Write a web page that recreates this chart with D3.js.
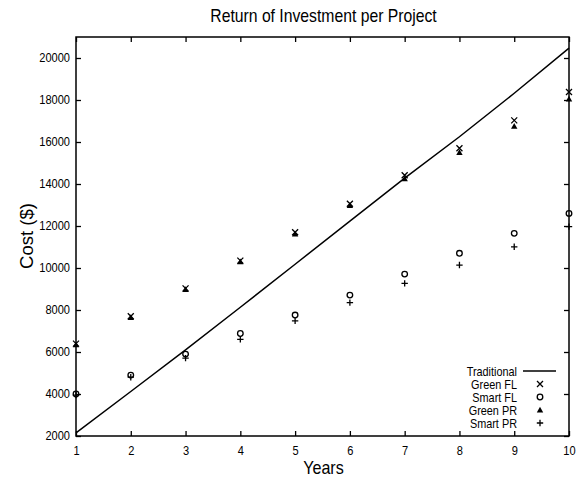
<!DOCTYPE html>
<html>
<head>
<meta charset="utf-8">
<script src="https://cdn.jsdelivr.net/npm/d3@7"></script>
<style>
  body { margin: 0; background: #fff; }
  svg { display: block; }
  text { font-family: "Liberation Sans", Arial, Helvetica, sans-serif; fill: #000; }
</style>
</head>
<body>
<svg id="chart" width="585" height="478"></svg>
<script>
const years = [1, 2, 3, 4, 5, 6, 7, 8, 9, 10];
const traditional = [2150, 4120, 6100, 8130, 10180, 12230, 14280, 16250, 18320, 20470];
const greenFL = [6400, 7700, 9030, 10350, 11700, 13060, 14420, 15700, 17030, 18380];
const smartFL = [4000, 4900, 5900, 6880, 7760, 8710, 9710, 10700, 11650, 12600];
const greenPR = [6350, 7650, 8980, 10300, 11620, 12980, 14250, 15500, 16750, 18050];
const smartPR = [3950, 4800, 5710, 6600, 7480, 8350, 9270, 10140, 11010, 11970];
const yTicks = [2000, 4000, 6000, 8000, 10000, 12000, 14000, 16000, 18000, 20000];
const xTicks = [1, 2, 3, 4, 5, 6, 7, 8, 9, 10];
const legendLabels = ["Traditional", "Green FL", "Smart FL", "Green PR", "Smart PR"];
const title = "Return of Investment per Project";
const xTitle = "Years";
const yTitle = "Cost ($)";

const svg = d3.select("#chart");
const L = 76, R = 569, T = 37, B = 436;
const x = d3.scaleLinear().domain([1, 10]).range([L, R]);
const y = d3.scaleLinear().domain([2000, 21000]).range([B, T]);

// axes with inward ticks
const gx = svg.append("g").attr("transform", `translate(0,${B})`)
  .call(d3.axisBottom(x).tickValues(xTicks).tickFormat(d3.format("d")).tickSizeInner(-5).tickSizeOuter(0).tickPadding(10));
const gxTop = svg.append("g").attr("transform", `translate(0,${T})`)
  .call(d3.axisTop(x).tickValues(xTicks).tickFormat("").tickSizeInner(-5).tickSizeOuter(0));
const gy = svg.append("g").attr("transform", `translate(${L},0)`)
  .call(d3.axisLeft(y).tickValues(yTicks).tickFormat(d3.format("d")).tickSizeInner(-5).tickSizeOuter(0).tickPadding(6));
const gyR = svg.append("g").attr("transform", `translate(${R},0)`)
  .call(d3.axisRight(y).tickValues(yTicks).tickFormat("").tickSizeInner(-5).tickSizeOuter(0));

[gx, gxTop, gy, gyR].forEach(g => {
  g.select(".domain").remove();
  g.selectAll(".tick line").attr("stroke", "#000").attr("stroke-width", 1.3);
  g.selectAll(".tick text").style("font-size", "12.3px").attr("fill", "#000")
    .attr("transform", "scale(0.9,1)");
});
gy.selectAll(".tick text").attr("x", -6 / 0.9);

svg.append("rect").attr("x", L).attr("y", T).attr("width", R - L).attr("height", B - T)
  .attr("fill", "none").attr("stroke", "#000").attr("stroke-width", 1.5);

// title & axis labels
svg.append("text").attr("transform", `translate(${(L + R) / 2 + 1},22) scale(0.9,1)`).attr("text-anchor", "middle")
  .style("font-size", "17.5px").text(title);
svg.append("text").attr("transform", `translate(${(L + R) / 2 + 1},474) scale(0.92,1)`).attr("text-anchor", "middle")
  .style("font-size", "17.5px").text(xTitle);
svg.append("text").attr("transform", "translate(33,236) rotate(-90)").attr("text-anchor", "middle")
  .style("font-size", "18.5px").text(yTitle);

// traditional line
const line = d3.line().x((d, i) => x(years[i])).y(d => y(d));
svg.append("path").datum(traditional).attr("d", line)
  .attr("fill", "none").attr("stroke", "#000").attr("stroke-width", 1.5);

// marker drawers
function drawCross(g, cx, cy) {
  const s = 3;
  g.append("path").attr("d", `M${cx - s},${cy - s}L${cx + s},${cy + s}M${cx - s},${cy + s}L${cx + s},${cy - s}`)
    .attr("stroke", "#000").attr("stroke-width", 1.3).attr("fill", "none");
}
function drawCircle(g, cx, cy) {
  g.append("circle").attr("cx", cx).attr("cy", cy).attr("r", 2.8)
    .attr("stroke", "#000").attr("stroke-width", 1.3).attr("fill", "none");
}
function drawTriangle(g, cx, cy) {
  const s = 3.2;
  g.append("path").attr("d", `M${cx},${cy - s}L${cx + s},${cy + s * 0.8}L${cx - s},${cy + s * 0.8}Z`)
    .attr("fill", "#000");
}
function drawPlus(g, cx, cy) {
  const s = 3.2;
  g.append("path").attr("d", `M${cx - s},${cy}L${cx + s},${cy}M${cx},${cy - s}L${cx},${cy + s}`)
    .attr("stroke", "#000").attr("stroke-width", 1.3).attr("fill", "none");
}

const marks = svg.append("g");
const seriesList = [
  { data: greenFL, draw: drawCross },
  { data: smartFL, draw: drawCircle },
  { data: greenPR, draw: drawTriangle },
  { data: smartPR, draw: drawPlus }
];
seriesList.forEach(s => {
  s.data.forEach((v, i) => s.draw(marks, x(years[i]), y(v)));
});

// legend
const leg = svg.append("g");
const legX = 517, legY0 = 371, legDy = 13;
legendLabels.forEach((lab, i) => {
  leg.append("text").attr("transform", `translate(${legX},${legY0 + i * legDy}) scale(0.87,1)`).attr("dy", "0.36em")
    .attr("text-anchor", "end").style("font-size", "12.5px").text(lab);
});
leg.append("line").attr("x1", 523).attr("x2", 556).attr("y1", legY0).attr("y2", legY0)
  .attr("stroke", "#000").attr("stroke-width", 1.5);
seriesList.forEach((s, i) => s.draw(leg, 540, legY0 + (i + 1) * legDy));
</script>
</body>
</html>
